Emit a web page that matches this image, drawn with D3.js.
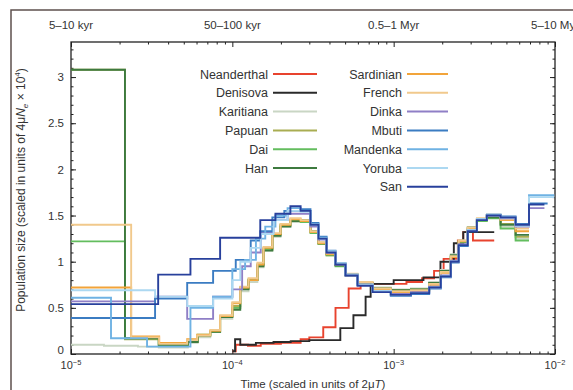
<!DOCTYPE html>
<html>
<head>
<meta charset="utf-8">
<script src="https://cdn.jsdelivr.net/npm/d3@7"></script>
<style>
  body { margin: 0; background: #fff; }
  text { font-family: "Liberation Sans", Arial, sans-serif; fill: #333; }
</style>
</head>
<body>
<svg id="chart" width="573" height="390"></svg>
<script>
// ---- data: [time (2uT), population size (4uNe x 10^4)], step starts; last pair closes the final step
const neanderthal = [[1.0e-4, 0.03], [1.05e-4, 0.10], [1.25e-4, 0.09], [1.5e-4, 0.11], [2.0e-4, 0.12], [2.65e-4, 0.16], [3.0e-4, 0.18], [3.66e-4, 0.29], [4.36e-4, 0.50], [5.26e-4, 0.71], [6.24e-4, 0.76], [9.5e-4, 0.76], [1.2e-3, 0.78], [1.5e-3, 0.82], [1.78e-3, 0.90], [2.04e-3, 1.03], [2.5e-3, 1.23], [2.7e-3, 1.32], [3.1e-3, 1.23], [4.2e-3, 1.23]];
const denisova = [[1.0e-4, 0.03], [1.04e-4, 0.16], [1.12e-4, 0.10], [1.4e-4, 0.12], [1.8e-4, 0.13], [2.3e-4, 0.14], [3.0e-4, 0.15], [4.67e-4, 0.28], [5.63e-4, 0.42], [6.7e-4, 0.62], [7.2e-4, 0.76], [1.0e-3, 0.80], [1.53e-3, 0.83], [1.95e-3, 1.00], [2.36e-3, 1.20], [2.7e-3, 1.32], [4.2e-3, 1.32]];
const karitiana = [[1.0e-5, 0.10], [1.6e-5, 0.09], [2.6e-5, 0.08], [3.5e-5, 0.07], [5.3e-5, 0.12], [6.1e-5, 0.18], [7.3e-5, 0.24], [8.4e-5, 0.38], [1.0e-4, 0.50], [1.12e-4, 0.68], [1.26e-4, 0.78], [1.43e-4, 0.94], [1.56e-4, 1.12], [1.77e-4, 1.27], [1.99e-4, 1.38], [2.29e-4, 1.43], [2.65e-4, 1.44], [3.05e-4, 1.33], [3.42e-4, 1.21], [3.84e-4, 1.08], [4.36e-4, 0.97], [5.03e-4, 0.86], [5.97e-4, 0.78], [7.4e-4, 0.72], [9.6e-4, 0.70], [1.28e-3, 0.71], [1.66e-3, 0.78], [1.96e-3, 0.91], [2.26e-3, 1.08], [2.53e-3, 1.23], [2.88e-3, 1.37], [3.28e-3, 1.45], [3.78e-3, 1.48], [4.6e-3, 1.38], [5.7e-3, 1.25], [6.9e-3, 1.25]];
const papuan = [[1.0e-5, 3.08], [2.16e-5, 0.16], [3.5e-5, 0.09], [5.3e-5, 0.13], [6.1e-5, 0.20], [7.3e-5, 0.25], [8.4e-5, 0.40], [1.0e-4, 0.52], [1.12e-4, 0.71], [1.26e-4, 0.80], [1.43e-4, 0.96], [1.56e-4, 1.13], [1.77e-4, 1.29], [1.99e-4, 1.39], [2.29e-4, 1.45], [2.65e-4, 1.44], [3.05e-4, 1.32], [3.42e-4, 1.20], [3.84e-4, 1.07], [4.36e-4, 0.96], [5.03e-4, 0.86], [5.97e-4, 0.77], [7.4e-4, 0.71], [9.6e-4, 0.69], [1.28e-3, 0.70], [1.66e-3, 0.77], [1.96e-3, 0.90], [2.26e-3, 1.06], [2.53e-3, 1.22], [2.88e-3, 1.36], [3.28e-3, 1.45], [3.78e-3, 1.49], [4.6e-3, 1.41], [5.7e-3, 1.27], [6.9e-3, 1.27]];
const dai = [[1.0e-5, 1.22], [2.16e-5, 0.17], [3.5e-5, 0.10], [5.3e-5, 0.14], [6.1e-5, 0.21], [7.3e-5, 0.24], [8.4e-5, 0.41], [1.0e-4, 0.50], [1.12e-4, 0.72], [1.26e-4, 0.81], [1.43e-4, 0.97], [1.56e-4, 1.14], [1.77e-4, 1.30], [1.99e-4, 1.40], [2.29e-4, 1.45], [2.65e-4, 1.43], [3.05e-4, 1.31], [3.42e-4, 1.19], [3.84e-4, 1.07], [4.36e-4, 0.95], [5.03e-4, 0.85], [5.97e-4, 0.76], [7.4e-4, 0.70], [9.6e-4, 0.68], [1.28e-3, 0.69], [1.66e-3, 0.76], [1.96e-3, 0.89], [2.26e-3, 1.05], [2.53e-3, 1.21], [2.88e-3, 1.35], [3.28e-3, 1.44], [3.78e-3, 1.47], [4.6e-3, 1.36], [5.7e-3, 1.23], [6.9e-3, 1.23]];
const han = [[1.0e-5, 3.08], [2.16e-5, 0.17], [3.5e-5, 0.10], [5.3e-5, 0.13], [6.1e-5, 0.20], [7.3e-5, 0.24], [8.4e-5, 0.40], [1.0e-4, 0.48], [1.12e-4, 0.70], [1.26e-4, 0.80], [1.43e-4, 0.95], [1.56e-4, 1.12], [1.77e-4, 1.28], [1.99e-4, 1.38], [2.29e-4, 1.44], [2.65e-4, 1.45], [3.05e-4, 1.33], [3.42e-4, 1.20], [3.84e-4, 1.08], [4.36e-4, 0.96], [5.03e-4, 0.86], [5.97e-4, 0.77], [7.4e-4, 0.71], [9.6e-4, 0.69], [1.28e-3, 0.70], [1.66e-3, 0.77], [1.96e-3, 0.90], [2.26e-3, 1.07], [2.53e-3, 1.22], [2.88e-3, 1.37], [3.28e-3, 1.45], [3.78e-3, 1.48], [4.6e-3, 1.40], [5.7e-3, 1.29], [6.9e-3, 1.29]];
const sardinian = [[1.0e-5, 0.72], [2.36e-5, 0.19], [3.52e-5, 0.12], [5.25e-5, 0.16], [6.06e-5, 0.21], [7.3e-5, 0.25], [8.4e-5, 0.41], [1.0e-4, 0.55], [1.12e-4, 0.72], [1.26e-4, 0.80], [1.43e-4, 0.97], [1.56e-4, 1.15], [1.77e-4, 1.30], [1.99e-4, 1.40], [2.29e-4, 1.46], [2.65e-4, 1.44], [3.05e-4, 1.32], [3.42e-4, 1.20], [3.84e-4, 1.08], [4.36e-4, 0.97], [5.03e-4, 0.86], [5.97e-4, 0.77], [7.4e-4, 0.70], [9.6e-4, 0.67], [1.28e-3, 0.68], [1.66e-3, 0.75], [1.96e-3, 0.88], [2.26e-3, 1.05], [2.53e-3, 1.22], [2.88e-3, 1.36], [3.28e-3, 1.46], [3.78e-3, 1.50], [4.6e-3, 1.45], [5.7e-3, 1.33], [6.9e-3, 1.33]];
const french = [[1.0e-5, 1.40], [2.36e-5, 0.18], [3.52e-5, 0.11], [5.25e-5, 0.15], [6.06e-5, 0.20], [7.3e-5, 0.26], [8.4e-5, 0.42], [1.0e-4, 0.56], [1.12e-4, 0.73], [1.26e-4, 0.82], [1.43e-4, 0.99], [1.56e-4, 1.16], [1.77e-4, 1.31], [1.99e-4, 1.41], [2.29e-4, 1.47], [2.65e-4, 1.45], [3.05e-4, 1.33], [3.42e-4, 1.21], [3.84e-4, 1.09], [4.36e-4, 0.98], [5.03e-4, 0.87], [5.97e-4, 0.78], [7.4e-4, 0.71], [9.6e-4, 0.68], [1.28e-3, 0.69], [1.66e-3, 0.76], [1.96e-3, 0.89], [2.26e-3, 1.06], [2.53e-3, 1.23], [2.88e-3, 1.37], [3.28e-3, 1.47], [3.78e-3, 1.51], [4.6e-3, 1.46], [5.7e-3, 1.36], [6.9e-3, 1.36]];
const dinka = [[1.0e-5, 0.57], [3.32e-5, 0.62], [5.25e-5, 0.38], [7.6e-5, 0.62], [1.0e-4, 0.70], [1.15e-4, 0.95], [1.3e-4, 1.10], [1.5e-4, 1.32], [1.8e-4, 1.45], [2.2e-4, 1.52], [2.65e-4, 1.52], [3.05e-4, 1.38], [3.42e-4, 1.24], [3.84e-4, 1.10], [4.36e-4, 0.97], [5.03e-4, 0.85], [5.97e-4, 0.75], [7.4e-4, 0.68], [9.6e-4, 0.65], [1.28e-3, 0.67], [1.66e-3, 0.73], [1.96e-3, 0.85], [2.26e-3, 1.01], [2.53e-3, 1.19], [2.88e-3, 1.34], [3.28e-3, 1.46], [3.78e-3, 1.50], [4.6e-3, 1.47], [5.7e-3, 1.38], [6.9e-3, 1.58], [8.6e-3, 1.58]];
const mbuti = [[1.0e-5, 0.39], [3.32e-5, 0.60], [5.25e-5, 0.77], [7.6e-5, 0.90], [1.05e-4, 1.02], [1.3e-4, 1.23], [1.49e-4, 1.33], [1.77e-4, 1.48], [2.1e-4, 1.55], [2.65e-4, 1.57], [3.05e-4, 1.42], [3.42e-4, 1.27], [3.84e-4, 1.12], [4.36e-4, 0.98], [5.03e-4, 0.86], [5.97e-4, 0.75], [7.4e-4, 0.67], [9.6e-4, 0.63], [1.28e-3, 0.65], [1.66e-3, 0.71], [1.96e-3, 0.83], [2.26e-3, 0.99], [2.53e-3, 1.17], [2.88e-3, 1.33], [3.28e-3, 1.45], [3.78e-3, 1.51], [4.6e-3, 1.49], [5.7e-3, 1.41], [6.9e-3, 1.63], [9.0e-3, 1.63]];
const mandenka = [[1.0e-5, 0.61], [1.77e-5, 0.17], [2.96e-5, 0.08], [5.5e-5, 0.50], [7.6e-5, 0.62], [1.0e-4, 0.92], [1.2e-4, 1.02], [1.4e-4, 1.25], [1.6e-4, 1.38], [1.85e-4, 1.50], [2.2e-4, 1.58], [2.65e-4, 1.55], [3.05e-4, 1.41], [3.42e-4, 1.26], [3.84e-4, 1.11], [4.36e-4, 0.98], [5.03e-4, 0.86], [5.97e-4, 0.75], [7.4e-4, 0.68], [9.6e-4, 0.64], [1.28e-3, 0.66], [1.66e-3, 0.72], [1.96e-3, 0.84], [2.26e-3, 1.00], [2.53e-3, 1.18], [2.88e-3, 1.34], [3.28e-3, 1.46], [3.78e-3, 1.51], [4.6e-3, 1.48], [5.7e-3, 1.40], [6.9e-3, 1.72], [9.9e-3, 1.72]];
const yoruba = [[1.0e-5, 0.69], [3.32e-5, 0.62], [5.25e-5, 0.52], [7.6e-5, 0.60], [1.0e-4, 0.80], [1.12e-4, 1.00], [1.3e-4, 1.15], [1.5e-4, 1.30], [1.8e-4, 1.45], [2.2e-4, 1.55], [2.65e-4, 1.54], [3.05e-4, 1.40], [3.42e-4, 1.25], [3.84e-4, 1.11], [4.36e-4, 0.98], [5.03e-4, 0.86], [5.97e-4, 0.75], [7.4e-4, 0.68], [9.6e-4, 0.64], [1.28e-3, 0.66], [1.66e-3, 0.72], [1.96e-3, 0.84], [2.26e-3, 1.00], [2.53e-3, 1.18], [2.88e-3, 1.34], [3.28e-3, 1.46], [3.78e-3, 1.50], [4.6e-3, 1.48], [5.7e-3, 1.39], [6.9e-3, 1.70], [9.9e-3, 1.70]];
const san = [[1.0e-5, 0.54], [3.47e-5, 0.86], [5.5e-5, 1.03], [8.4e-5, 1.26], [1.49e-4, 1.45], [1.85e-4, 1.52], [2.29e-4, 1.60], [2.65e-4, 1.55], [3.05e-4, 1.40], [3.42e-4, 1.25], [3.84e-4, 1.10], [4.36e-4, 0.97], [5.03e-4, 0.85], [5.97e-4, 0.74], [7.4e-4, 0.67], [9.6e-4, 0.64], [1.28e-3, 0.66], [1.66e-3, 0.72], [1.96e-3, 0.84], [2.26e-3, 1.00], [2.53e-3, 1.18], [2.88e-3, 1.33], [3.28e-3, 1.45], [3.78e-3, 1.50], [4.6e-3, 1.48], [5.7e-3, 1.40], [6.9e-3, 1.62], [8.6e-3, 1.62]];

const seriesNames = ["Neanderthal", "Denisova", "Karitiana", "Papuan", "Dai", "Han",
  "Sardinian", "French", "Dinka", "Mbuti", "Mandenka", "Yoruba", "San"];
const seriesData = [neanderthal, denisova, karitiana, papuan, dai, han,
  sardinian, french, dinka, mbuti, mandenka, yoruba, san];
const seriesColors = ["#e8432e", "#2a2a2a", "#c9d6c4", "#a9ad52", "#63bd5e", "#3d7a3f",
  "#f2a43a", "#f1c98c", "#8f7fc6", "#3b7cc2", "#6fb2e3", "#acd8f1", "#28409c"];

const xTickValues = [1e-5, 1e-4, 1e-3, 1e-2];
const xTickExponents = ["−5", "−4", "−3", "−2"];
const topLabels = ["5–10 kyr", "50–100 kyr", "0.5–1 Myr", "5–10 Myr"];
const yTickValues = [0, 0.5, 1, 1.5, 2, 2.5, 3];

// ---- layout
const svg = d3.select("#chart");
const W = 573, H = 390;
const mLeft = 71, mRight = 555, mTop = 42, mBottom = 354;

svg.append("rect").attr("width", W).attr("height", H).attr("fill", "#fff");
// outer frame (runs off the right and bottom edge)
svg.append("rect")
  .attr("x", 11).attr("y", 10).attr("width", 620).attr("height", 420)
  .attr("fill", "none").attr("stroke", "#5e504d").attr("stroke-width", 1.5);

const x = d3.scaleLog().domain([1e-5, 1e-2]).range([mLeft, mRight]);
const y = d3.scaleLinear().domain([0, 3.38]).range([mBottom, mTop]);

// minor ticks for log axis
const xMinor = [];
for (let e = -5; e < -2; e++) for (let m = 2; m <= 9; m++) xMinor.push(m * Math.pow(10, e));
const yMinor = d3.range(0, 3.39, 0.1);

const axisG = svg.append("g").attr("class", "axes");

function styleAxis(g) {
  g.select(".domain").remove();
  g.selectAll("line").attr("stroke", "#222").attr("stroke-width", 1);
}

axisG.append("g").attr("transform", `translate(0,${mBottom})`)
  .call(d3.axisBottom(x).tickValues(xMinor).tickSize(-2.5).tickFormat(""))
  .call(styleAxis);
axisG.append("g").attr("transform", `translate(0,${mBottom})`)
  .call(d3.axisBottom(x).tickValues(xTickValues).tickSize(-5).tickFormat(""))
  .call(styleAxis);
axisG.append("g").attr("transform", `translate(0,${mTop})`)
  .call(d3.axisTop(x).tickValues(xMinor).tickSize(-2.5).tickFormat(""))
  .call(styleAxis);
axisG.append("g").attr("transform", `translate(0,${mTop})`)
  .call(d3.axisTop(x).tickValues(xTickValues).tickSize(-5).tickFormat(""))
  .call(styleAxis);
axisG.append("g").attr("transform", `translate(${mLeft},0)`)
  .call(d3.axisLeft(y).tickValues(yMinor).tickSize(-2.5).tickFormat(""))
  .call(styleAxis);
axisG.append("g").attr("transform", `translate(${mLeft},0)`)
  .call(d3.axisLeft(y).tickValues(yTickValues).tickSize(-5).tickPadding(7).tickFormat(d3.format("")))
  .call(styleAxis)
  .call(g => g.selectAll("text").attr("font-size", 11.5).attr("fill", "#333")
    .attr("font-family", "Liberation Sans, Arial, sans-serif"))
  .call(g => g.selectAll(".tick").filter(d => d === 0).select("text").attr("dy", "-0.05em"));
axisG.append("g").attr("transform", `translate(${mRight},0)`)
  .call(d3.axisRight(y).tickValues(yMinor).tickSize(-2.5).tickFormat(""))
  .call(styleAxis);
axisG.append("g").attr("transform", `translate(${mRight},0)`)
  .call(d3.axisRight(y).tickValues(yTickValues).tickSize(-5).tickFormat(""))
  .call(styleAxis);

// frame of plot
svg.append("rect")
  .attr("x", mLeft).attr("y", mTop).attr("width", mRight - mLeft).attr("height", mBottom - mTop)
  .attr("fill", "none").attr("stroke", "#222").attr("stroke-width", 1.3);

// x tick labels with superscripts
const xl = svg.append("g").selectAll("text").data(xTickValues).enter().append("text")
  .attr("x", d => x(d)).attr("y", mBottom + 15)
  .attr("text-anchor", "middle").attr("font-size", 11);
xl.append("tspan").text("10");
xl.append("tspan").attr("dy", -4.5).attr("font-size", 7.5).text((d, i) => xTickExponents[i]);

// top labels
svg.append("g").selectAll("text").data(xTickValues).enter().append("text")
  .attr("x", d => x(d)).attr("y", 29)
  .attr("text-anchor", "middle").attr("font-size", 11.5)
  .text((d, i) => topLabels[i]);

// axis titles
const xt = svg.append("text").attr("x", 313).attr("y", 388)
  .attr("text-anchor", "middle").attr("font-size", 11.5);
xt.append("tspan").text("Time (scaled in units of 2");
xt.append("tspan").text("μ");
xt.append("tspan").attr("font-style", "italic").text("T");
xt.append("tspan").text(")");

const yt = svg.append("text").attr("transform", "translate(25,190) rotate(-90)")
  .attr("text-anchor", "middle").attr("font-size", 12);
yt.append("tspan").text("Population size (scaled in units of 4μ");
yt.append("tspan").attr("font-style", "italic").text("N");
yt.append("tspan").attr("font-size", 8).attr("dy", 3).attr("font-style", "italic").text("e");
yt.append("tspan").attr("dy", -3).text(" × 10");
yt.append("tspan").attr("font-size", 8).attr("dy", -5).text("4");
yt.append("tspan").attr("dy", 5).text(")");

// ---- curves
const line = d3.line()
  .x(d => x(d[0])).y(d => y(d[1]))
  .curve(d3.curveStepAfter);

const plot = svg.append("g");
plot.selectAll("path.series").data(seriesData).enter().append("path")
  .attr("class", "series")
  .attr("d", line)
  .attr("fill", "none")
  .attr("stroke", (d, i) => seriesColors[i])
  .attr("stroke-width", 1.9)
  .attr("stroke-linejoin", "miter");

// ---- legend
const legend = svg.append("g");
seriesNames.forEach((name, i) => {
  const col = i < 6 ? 0 : 1;
  const row = i < 6 ? i : i - 6;
  const lx = col === 0 ? 268 : 402;
  const lineW = col === 0 ? 44 : 41;
  const ly = 74 + row * 18.8;
  legend.append("text").attr("x", lx).attr("y", ly + 4.5)
    .attr("text-anchor", "end").attr("font-size", 12.5).text(name);
  legend.append("line")
    .attr("x1", lx + 5).attr("x2", lx + 5 + lineW)
    .attr("y1", ly).attr("y2", ly)
    .attr("stroke", seriesColors[i]).attr("stroke-width", 2);
});
</script>
</body>
</html>
